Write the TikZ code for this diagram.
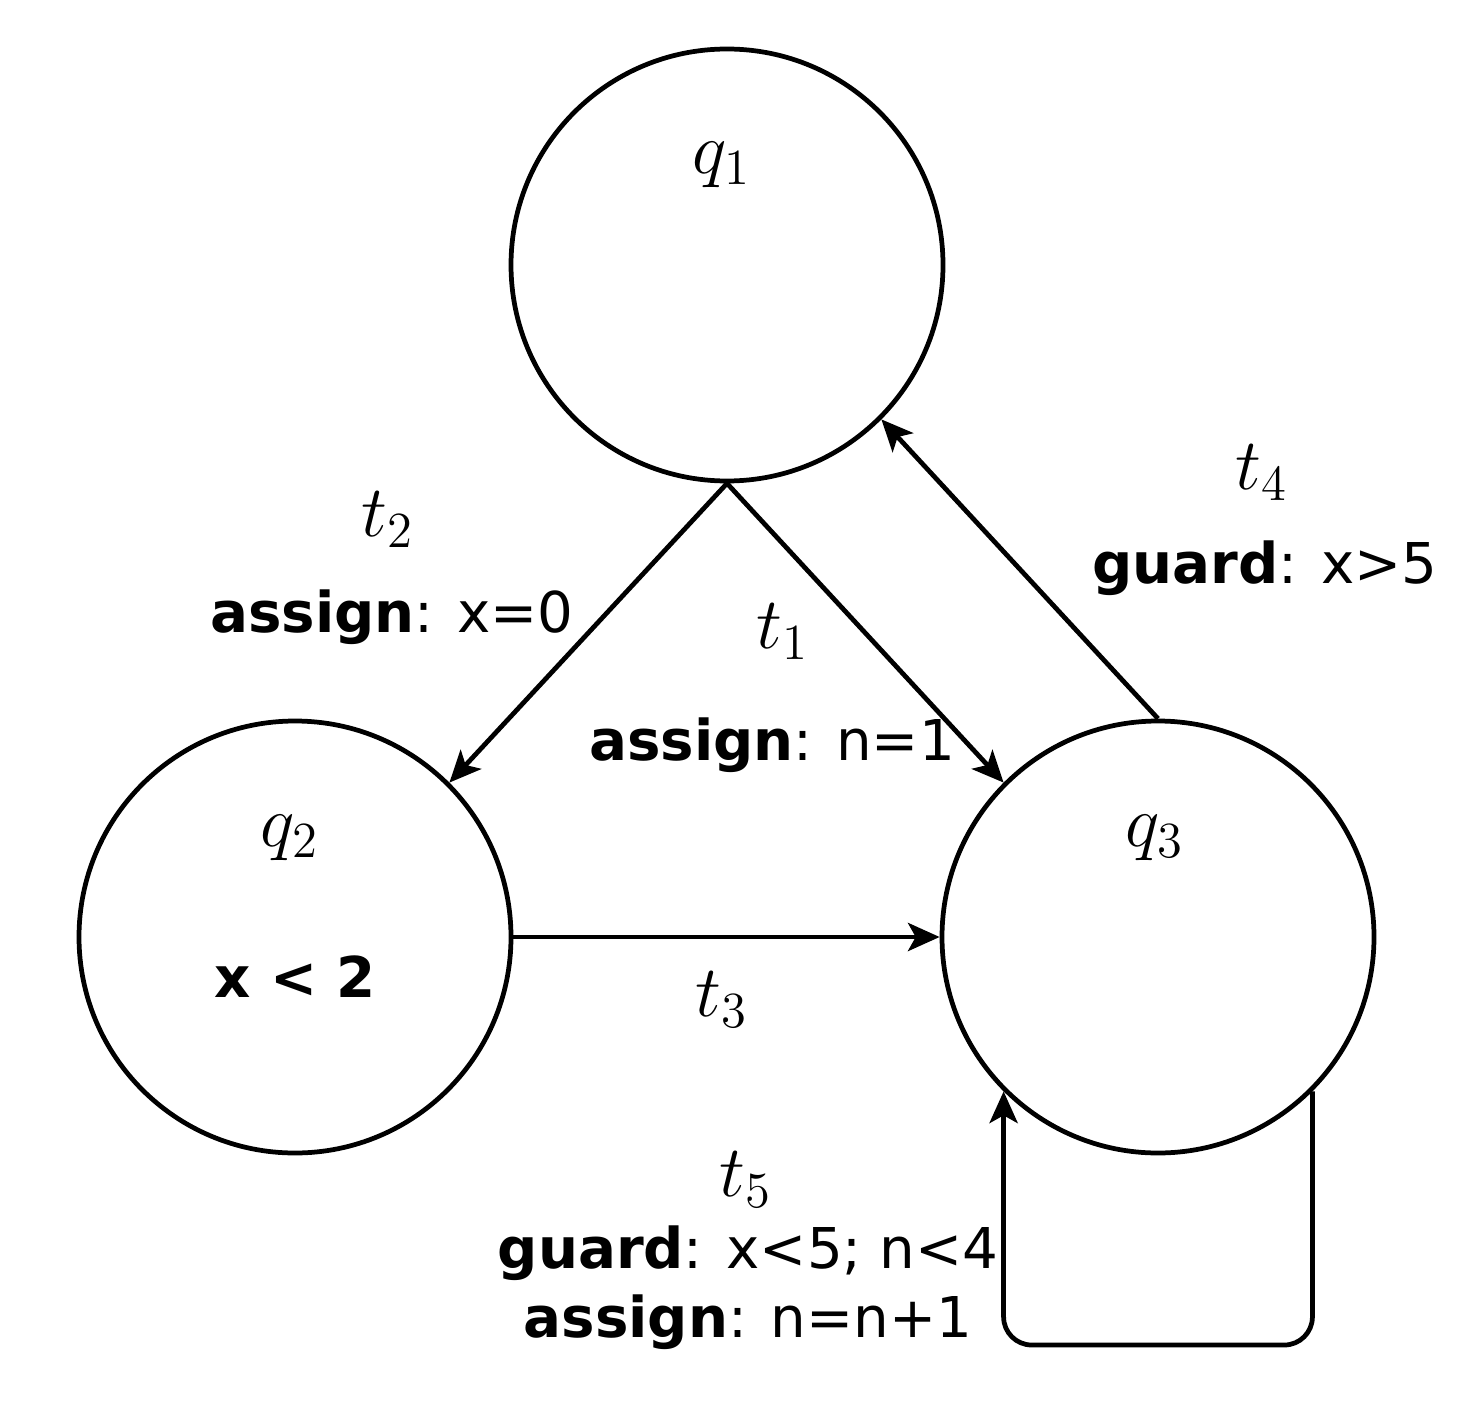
\documentclass[tikz,border=0pt]{standalone}
\usepackage{fontspec}
\setmainfont{DejaVu Sans}
\usepackage{amsmath}
\usetikzlibrary{arrows.meta}
\usetikzlibrary{positioning}

\tikzset{
 state/.style={circle, draw=black, line width=1.35pt, minimum size=4.32cm, inner sep=0pt},
 trans/.style={-{Stealth[length=9pt,width=8pt,inset=2.2pt]}, line width=1.35pt, draw=black},
 mlabel/.style={font=\fontsize{21.5}{25}\selectfont, inner sep=0pt},
 tlabel/.style={font=\fontsize{16}{20}\selectfont, inner sep=0pt},
}

\begin{document}
\begin{tikzpicture}
 \useasboundingbox (0,0) rectangle (14.73,14.05);
 \node [state] (q1) at (7.27, 11.40) {};
 \node [state] (q2) at (2.95, 4.68) {};
 \node [state] (q3) at (11.58, 4.68) {};
 \node [mlabel] (q1l) at (7.22, 12.40) {$q_1$};
 \node [mlabel] (q2l) at (2.90, 5.67) {$q_2$};
 \node [mlabel] (q3l) at (11.55, 5.67) {$q_3$};
 \node [tlabel] (inv) at (2.95, 4.28) {\textbf{x < 2}};

 \node [mlabel] (t2) at (3.88, 8.85) {$t_2$};
 \node [tlabel] (t2a) at (3.92, 7.88) {\textbf{assign}: x=0};
 \node [mlabel] (t1) at (7.83, 7.73) {$t_1$};
 \node [tlabel] (t1a) at (7.72, 6.60) {\textbf{assign}: n=1};
 \node [mlabel] (t4) at (12.62, 9.32) {$t_4$};
 \node [tlabel] (t4g) at (12.65, 8.37) {\textbf{guard}: x>5};
 \node [mlabel] (t3) at (7.22, 4.05) {$t_3$};
 \node [mlabel] (t5) at (7.46, 2.25) {$t_5$};
 \node [tlabel] (t5g) at (7.48, 1.52) {\textbf{guard}: x<5; n<4};
 \node [tlabel] (t5a) at (7.48, 0.83) {\textbf{assign}: n=n+1};

 \draw [trans] (q1.south) to (q2.45);
 \draw [trans] (q1.south) to (q3.135);
 \draw [trans] (q3.north) to (q1.-45);
 \draw [trans] (q2.east) to (q3.west);
 \coordinate (loopbase) at (11.58, 0.60);
 \draw [trans, rounded corners=8pt] (q3.-45) -- (q3.-45 |- loopbase) -- (q3.-135 |- loopbase) -- (q3.-135);
\end{tikzpicture}
\end{document}
